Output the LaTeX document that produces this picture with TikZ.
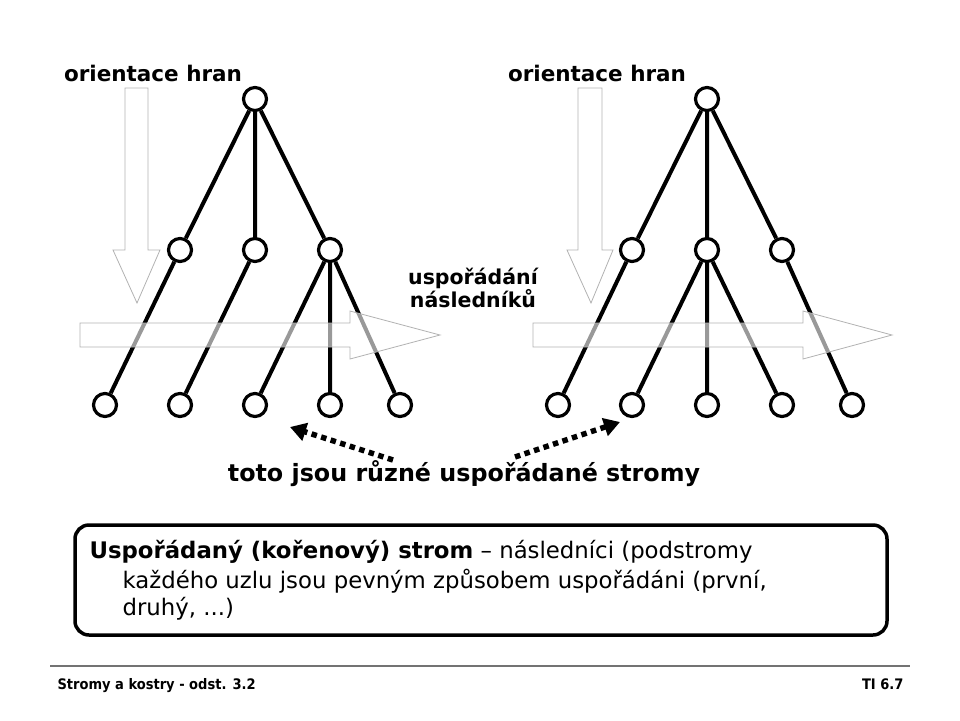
\documentclass[tikz,border=0pt]{standalone}
\usepackage{fontspec}
\setmainfont{DejaVu Sans}
\newfontfamily\condfont{DejaVu Sans Condensed}
\usetikzlibrary{arrows.meta}
\begin{document}
\begin{tikzpicture}[x=1pt,y=-1pt,
  vtx/.style={circle,draw,line width=3.2pt,minimum size=23pt,inner sep=0pt,fill=white},
  edge/.style={line width=4pt},
  hollow/.style={draw=black!30,line width=0.8pt,fill=white,fill opacity=0.6},
  lbl/.style={font=\fontsize{21.5}{24}\selectfont\bfseries,align=center},
  boxtxt/.style={anchor=west,font=\fontsize{22.8}{26}\selectfont},
  dotarrow/.style={line width=5.5pt,dash pattern=on 5.5pt off 4.5pt,-{Triangle[length=16pt,width=18pt]}}
]
\useasboundingbox (0,0) rectangle (960,720);
% left tree
\node[vtx] (lr) at (255,99) {};
\node[vtx] (la) at (180,250) {};
\node[vtx] (lb) at (255,250) {};
\node[vtx] (lc) at (330,250) {};
\node[vtx] (l1) at (105,405) {};
\node[vtx] (l2) at (180,405) {};
\node[vtx] (l3) at (255,405) {};
\node[vtx] (l4) at (330,405) {};
\node[vtx] (l5) at (400,405) {};
\draw[edge] (lr)--(la) (lr)--(lb) (lr)--(lc) (la)--(l1) (lb)--(l2)
  (lc)--(l3) (lc)--(l4) (lc)--(l5);
% right tree
\node[vtx] (rr) at (707,99) {};
\node[vtx] (ra) at (632,250) {};
\node[vtx] (rb) at (707,250) {};
\node[vtx] (rc) at (782,250) {};
\node[vtx] (r1) at (558,405) {};
\node[vtx] (r2) at (632,405) {};
\node[vtx] (r3) at (707,405) {};
\node[vtx] (r4) at (782,405) {};
\node[vtx] (r5) at (852,405) {};
\draw[edge] (rr)--(ra) (rr)--(rb) (rr)--(rc) (ra)--(r1) (rb)--(r2)
  (rb)--(r3) (rb)--(r4) (rc)--(r5);
% hollow arrows
\draw[hollow] (125,88)--(148,88)--(148,250)--(160,250)--(137,303)--(113,250)--(125,250)--cycle;
\draw[hollow] (80,323)--(350,323)--(350,311)--(440,335)--(350,359)--(350,347)--(80,347)--cycle;
\draw[hollow] (578,88)--(602,88)--(602,250)--(613,250)--(591,303)--(567,250)--(578,250)--cycle;
\draw[hollow] (533,323)--(803,323)--(803,311)--(892,335)--(803,359)--(803,347)--(533,347)--cycle;
% labels
\node[lbl] (o1) at (153,73) {orientace hran};
\node[lbl] (o2) at (597,73) {orientace hran};
\node[lbl,font=\fontsize{20.5}{22}\selectfont\bfseries] (us) at (473,288) {uspořádání\\následníků};
\node[lbl,font=\fontsize{23.8}{26}\selectfont\bfseries] (tt) at (464,474) {toto jsou různé uspořádané stromy};
\coordinate (dl) at (393,460);
\coordinate (dlt) at (290,427);
\coordinate (dr) at (515,457);
\coordinate (drt) at (620,422);
\draw[dotarrow] (dl)--(dlt);
\draw[dotarrow] (dr)--(drt);
% box
\draw[line width=3.5pt,rounded corners=14pt] (75,525) rectangle (887,635);
\node[boxtxt] (t1) at (86,552) {\textbf{Uspořádaný (kořenový) strom} – následníci (podstromy};
\node[boxtxt] (t2) at (119,581) {každého uzlu jsou pevným způsobem uspořádáni (první,};
\node[boxtxt] (t3) at (119,609) {druhý, ...)};
% footer
\draw[black!55,line width=2pt] (50,666)--(910,666);
\node[anchor=west,font=\condfont\fontsize{14.5}{16}\selectfont\bfseries] (f1) at (54,686) {Stromy a kostry - odst. 3.2};
\node[anchor=east,font=\condfont\fontsize{14.5}{16}\selectfont\bfseries] (f2) at (907,684) {TI 6.7};
\end{tikzpicture}
\end{document}
